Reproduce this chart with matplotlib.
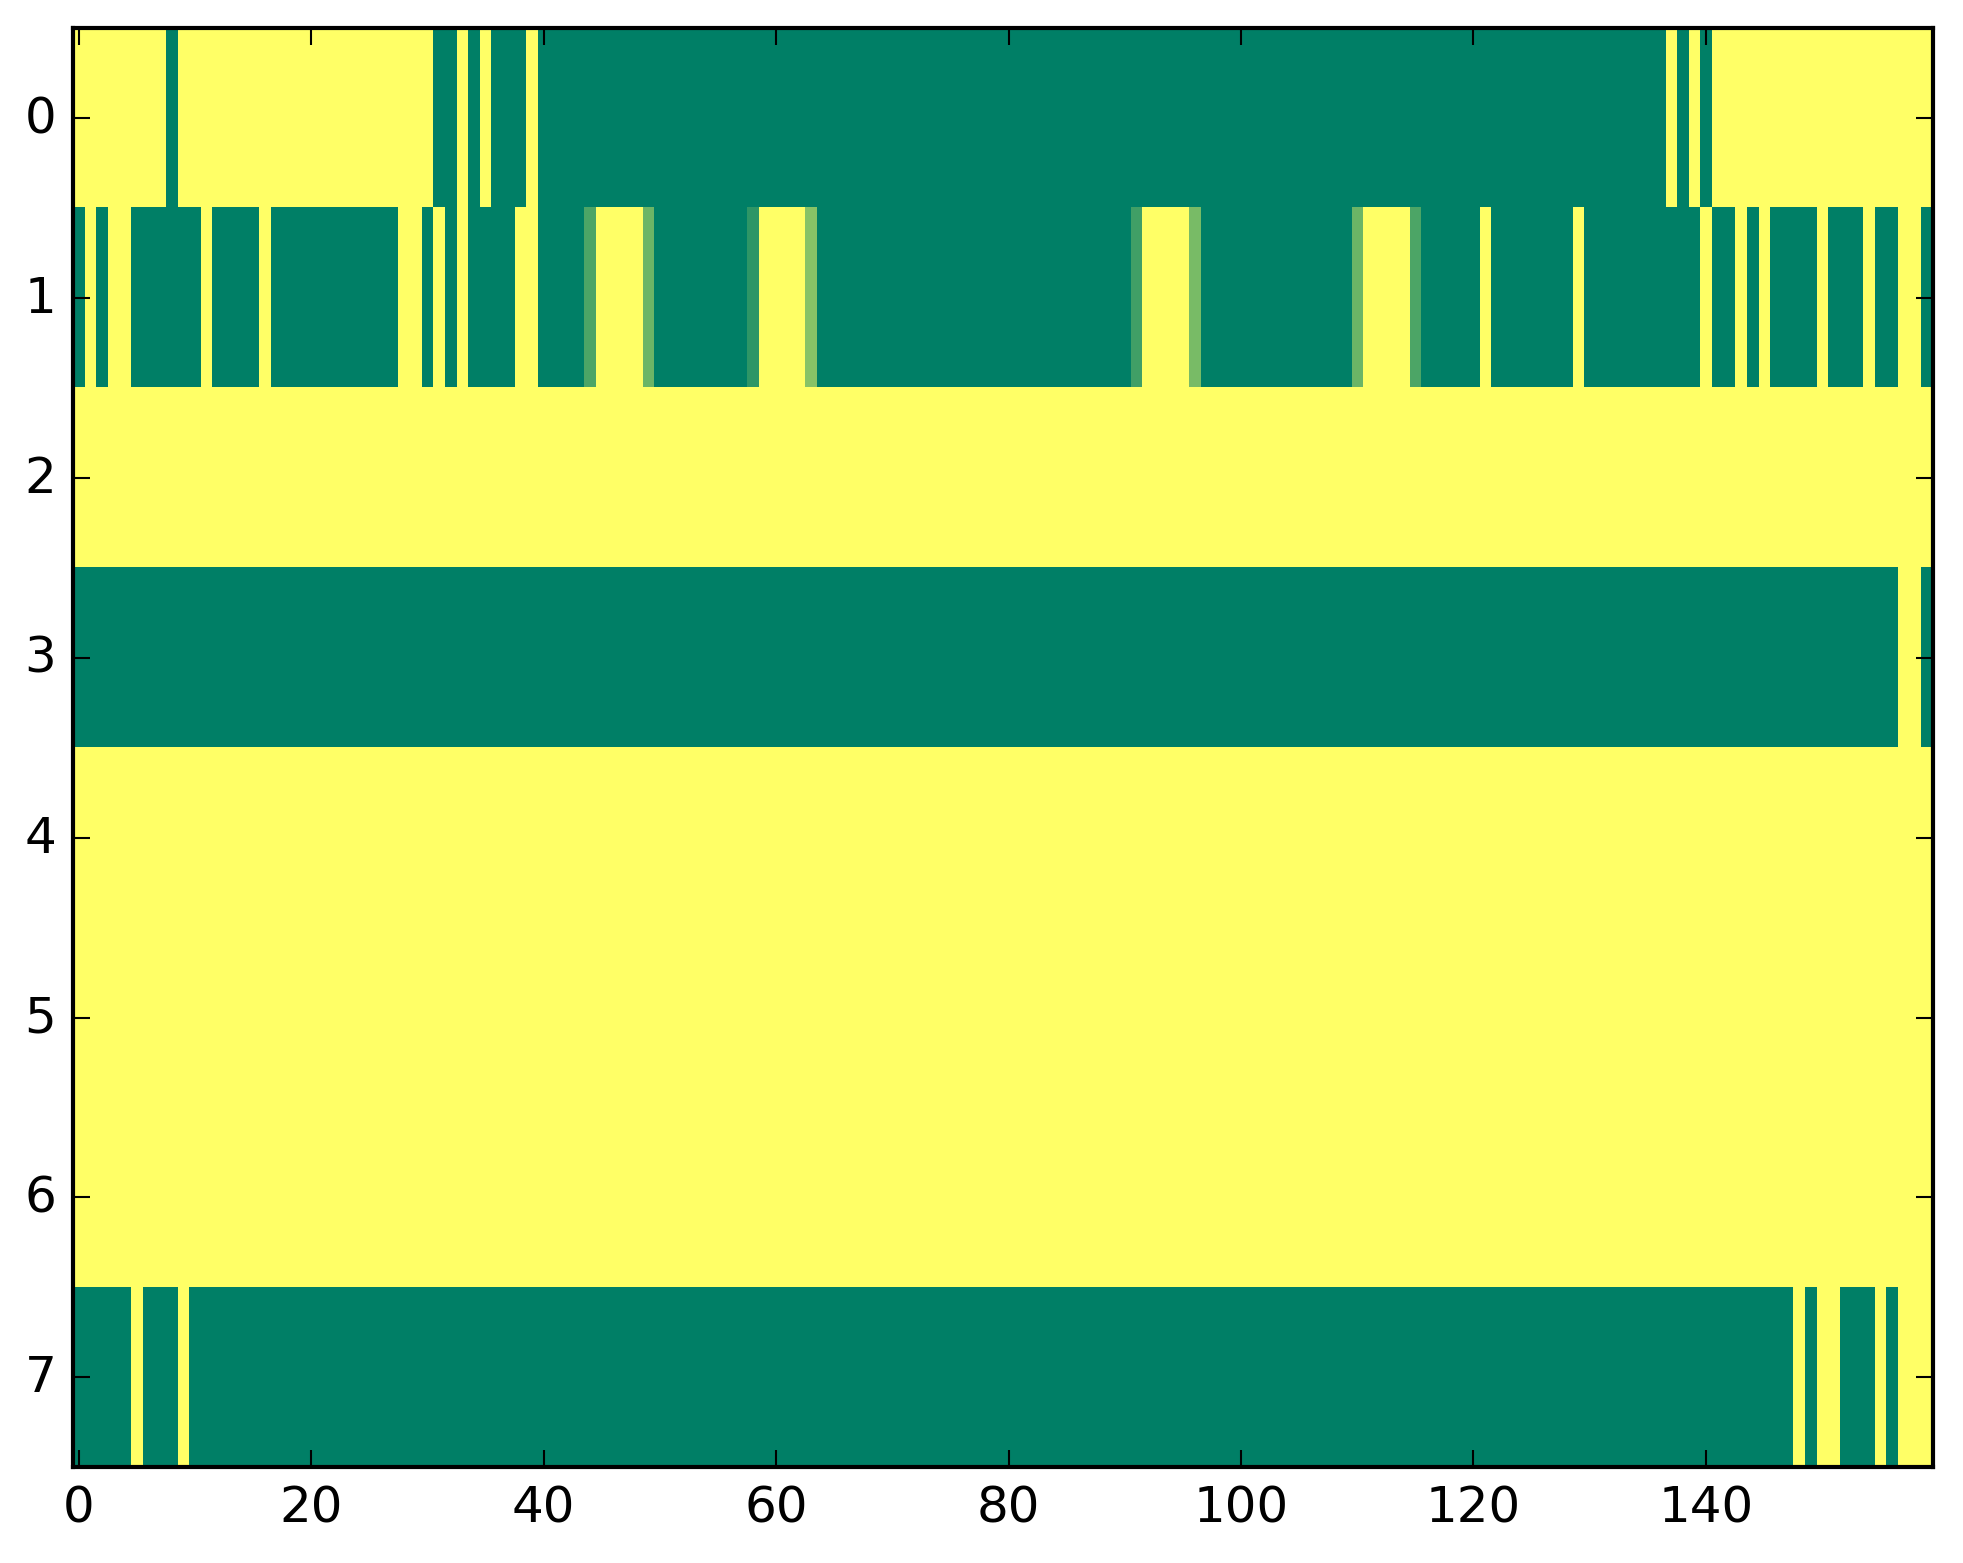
import numpy as np
import matplotlib
matplotlib.use("Agg")
import matplotlib.pyplot as plt

plt.style.use("classic")

# each row as (value, run length) pairs; 0 = green, 1 = yellow
row0 = [(1, 8), (0, 1), (1, 22), (0, 2), (1, 1), (0, 1), (1, 1), (0, 3), (1, 1),
        (0, 97), (1, 1), (0, 1), (1, 1), (0, 1), (1, 19)]
row1 = [(0, 1), (1, 1), (0, 1), (1, 2), (0, 6), (1, 1), (0, 4), (1, 1), (0, 11),
        (1, 2), (0, 1), (1, 1), (0, 1), (1, 1), (0, 4), (1, 2), (0, 4),
        (0.3, 1), (1, 4), (0.42, 1), (0, 8), (0.18, 1), (1, 4), (0.53, 1),
        (0, 27), (0.25, 1), (1, 4), (0.47, 1), (0, 13), (0.42, 1), (1, 4),
        (0.3, 1), (0, 5), (1, 1), (0, 7), (1, 1), (0, 10), (1, 1), (0, 2),
        (1, 1), (0, 1), (1, 1), (0, 4), (1, 1), (0, 3), (1, 1), (0, 2),
        (1, 2), (0, 1)]
row2 = [(1, 160)]
row3 = [(0, 157), (1, 2), (0, 1)]
row4 = [(1, 160)]
row5 = [(1, 160)]
row6 = [(1, 160)]
row7 = [(0, 5), (1, 1), (0, 3), (1, 1), (0, 138), (1, 1), (0, 1), (1, 2),
        (0, 3), (1, 1), (0, 1), (1, 3)]

rows = [row0, row1, row2, row3, row4, row5, row6, row7]


def expand(runs):
    out = []
    for v, n in runs:
        out += [v] * n
    return out


data = np.array([expand(r) for r in rows], dtype=float)

fig = plt.figure(figsize=(1963 / 300, 1564 / 300), dpi=300)
ax = fig.add_axes([0.0372, 0.0612, 0.9473, 0.9201])
ax.imshow(data, cmap="summer", vmin=0, vmax=1, aspect="auto",
          interpolation="nearest")
ax.set_xticks(np.arange(0, 160, 20))
ax.set_yticks(np.arange(0, 8))

fig.savefig("out.png", dpi=300)
